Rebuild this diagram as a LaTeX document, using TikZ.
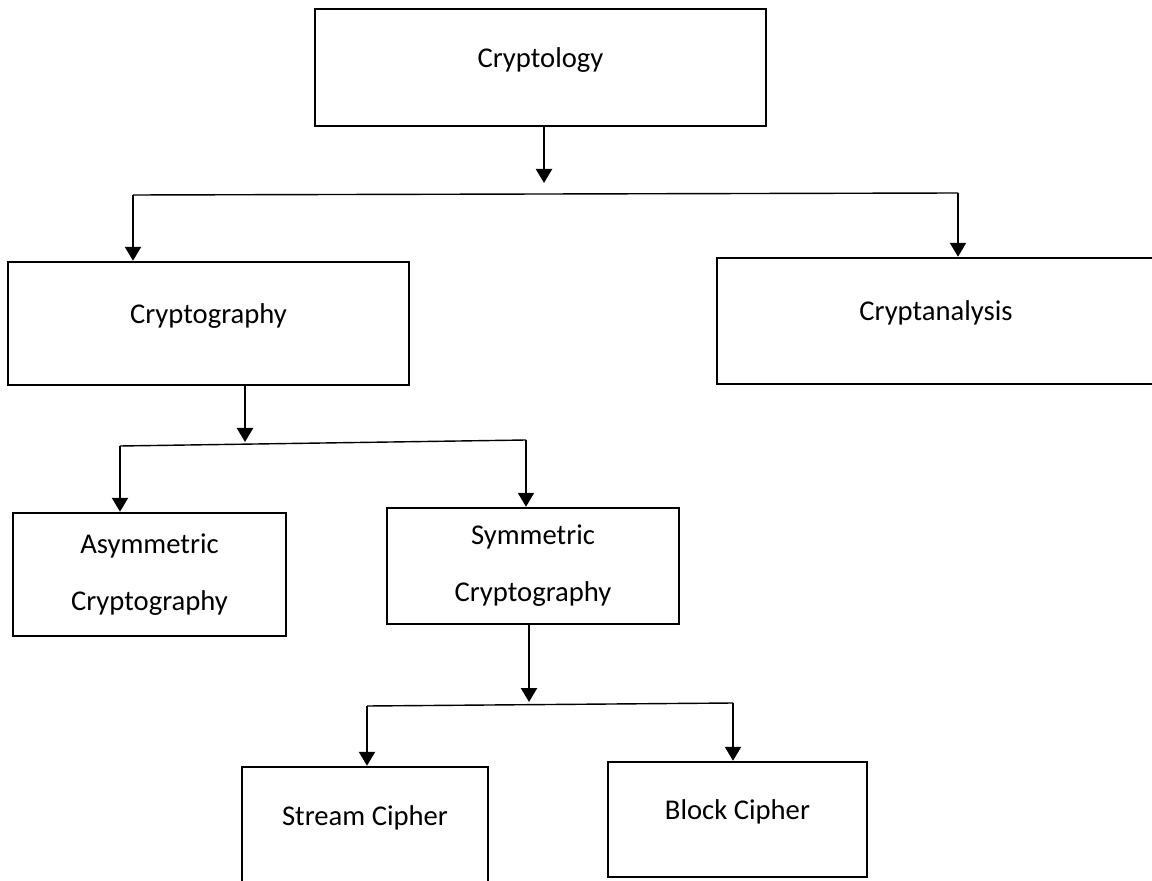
\documentclass[tikz,border=0pt]{standalone}
\usepackage{fontspec}
\setmainfont{Carlito}
\usetikzlibrary{arrows.meta}
\begin{document}
\begin{tikzpicture}[every node/.style={draw, line width=1.4pt, inner sep=0pt, font=\fontsize{16.3}{32.4}\selectfont},
  mid/.style={text height=0.36cm, text depth=0.36cm},
  arr/.style={line width=1.3pt, -{Triangle[length=2.8mm,width=3.2mm]}},
  rail/.style={line width=0.8pt}]
\useasboundingbox (0, 0) rectangle (23.04, -17.62);
\clip (0, 0) rectangle (23.04, -17.62);
\node[mid, minimum width=9.02cm, minimum height=2.34cm] (c0) at (10.81, -1.35) {Cryptology};
\node[mid, minimum width=8.02cm, minimum height=2.46cm] (c10) at (4.17, -6.47) {Cryptography};
\node[mid, minimum width=8.76cm, minimum height=2.52cm] (c11) at (18.72, -6.42) {Cryptanalysis};
\node[align=center, minimum width=5.46cm, minimum height=2.46cm] (c20) at (2.99, -11.49) {Asymmetric\\Cryptography};
\node[align=center, minimum width=5.84cm, minimum height=2.32cm] (c21) at (10.66, -11.32) {Symmetric\\Cryptography};
\node[mid, minimum width=4.92cm, minimum height=2.32cm] (c30) at (7.30, -16.50) {Stream Cipher};
\node[mid, minimum width=5.18cm, minimum height=2.30cm] (c31) at (14.75, -16.39) {Block Cipher};
\coordinate (j0) at (10.88, -3.66);
\coordinate (l0) at (2.66, -3.90);
\coordinate (r0) at (19.16, -3.86);
\coordinate (j1) at (4.90, -8.84);
\coordinate (l1) at (2.40, -8.92);
\coordinate (r1) at (10.52, -8.80);
\coordinate (j2) at (10.58, -14.04);
\coordinate (l2) at (7.34, -14.12);
\coordinate (r2) at (14.66, -14.06);
\draw[arr] (c0.south -| j0) -- (j0);
\draw[rail] (l0) -- (r0);
\draw[arr] (l0) -- (c10.north -| l0);
\draw[arr] (r0) -- (c11.north -| r0);
\draw[arr] (c10.south -| j1) -- (j1);
\draw[rail] (l1) -- (r1);
\draw[arr] (l1) -- (c20.north -| l1);
\draw[arr] (r1) -- (c21.north -| r1);
\draw[arr] (c21.south -| j2) -- (j2);
\draw[rail] (l2) -- (r2);
\draw[arr] (l2) -- (c30.north -| l2);
\draw[arr] (r2) -- (c31.north -| r2);
\end{tikzpicture}
\end{document}
